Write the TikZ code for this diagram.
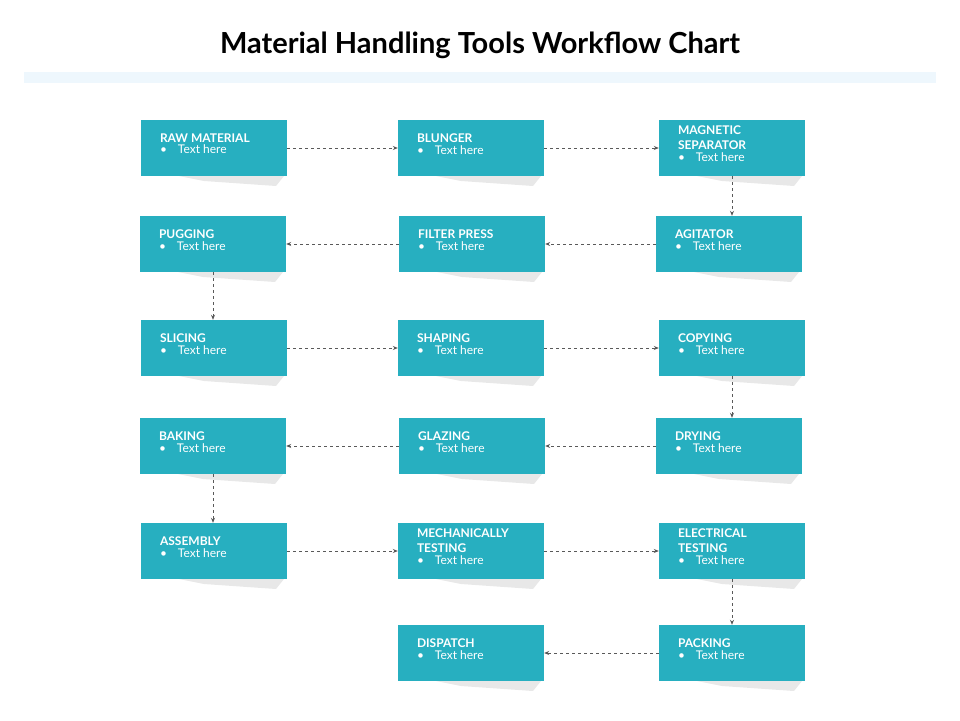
\documentclass[tikz,border=0pt]{standalone}
\usepackage{fontspec}
\setmainfont{Lato}
\usetikzlibrary{arrows.meta}
\definecolor{boxc}{HTML}{27AFC0}
\definecolor{band}{HTML}{EEF7FD}
\newcommand{\mkbox}[5]{% name, cx, cy, title lines, offset
  \fill[black!9] (#2-35,#3+28) -- (#2+70,#3+28) -- (#2+62,#3+38) -- (#2-10,#3+33) -- cycle;
  \node[flowbox] (#1) at (#2,#3) {};
  \node[anchor=north west,align=left,text=white,inner sep=0pt,font=\bfseries\fontsize{12}{15}\selectfont] (#1t) at ([xshift=19pt,yshift=#5]#1.north west) {#4};
  \node[anchor=north west,inner sep=0pt,text=white,font=\fontsize{12}{15}\selectfont] (#1b) at ([yshift=-2pt]#1t.south west) {\textbullet\hspace{11pt}Text here};
}
\begin{document}
\begin{tikzpicture}[x=1pt,y=-1pt,
  flowbox/.style={fill=boxc,draw=none,minimum width=146pt,minimum height=56pt,inner sep=0pt},
  conn/.style={dashed,draw=black!65,line width=0.7pt,-{Stealth[length=5pt,width=4pt]}}]
\useasboundingbox (0,0) rectangle (960,720);
\fill[band] (24,72) rectangle (936,83);
\node[font=\bfseries\fontsize{29}{34}\selectfont] (title) at (480,45) {Material Handling Tools Workflow Chart};
\mkbox{a1}{214}{148}{RAW MATERIAL}{-14pt}
\mkbox{a2}{471}{148}{BLUNGER}{-14pt}
\mkbox{a3}{732}{148}{MAGNETIC\\SEPARATOR}{-6pt}
\mkbox{b1}{213}{244}{PUGGING}{-14pt}
\mkbox{b2}{472}{244}{FILTER PRESS}{-14pt}
\mkbox{b3}{729}{244}{AGITATOR}{-14pt}
\mkbox{c1}{214}{348}{SLICING}{-14pt}
\mkbox{c2}{471}{348}{SHAPING}{-14pt}
\mkbox{c3}{732}{348}{COPYING}{-14pt}
\mkbox{d1}{213}{446}{BAKING}{-14pt}
\mkbox{d2}{472}{446}{GLAZING}{-14pt}
\mkbox{d3}{729}{446}{DRYING}{-14pt}
\mkbox{e1}{214}{551}{ASSEMBLY}{-14pt}
\mkbox{e2}{471}{551}{MECHANICALLY\\TESTING}{-6pt}
\mkbox{e3}{732}{551}{ELECTRICAL\\TESTING}{-6pt}
\mkbox{f2}{471}{653}{DISPATCH}{-14pt}
\mkbox{f3}{732}{653}{PACKING}{-14pt}
\draw[conn] (a1) -- (a2);
\draw[conn] (a2) -- (a3);
\draw[conn] (a3.south) -- (a3.south |- b3.north);
\draw[conn] (b3) -- (b2);
\draw[conn] (b2) -- (b1);
\draw[conn] (b1.south) -- (b1.south |- c1.north);
\draw[conn] (c1) -- (c2);
\draw[conn] (c2) -- (c3);
\draw[conn] (c3.south) -- (c3.south |- d3.north);
\draw[conn] (d3) -- (d2);
\draw[conn] (d2) -- (d1);
\draw[conn] (d1.south) -- (d1.south |- e1.north);
\draw[conn] (e1) -- (e2);
\draw[conn] (e2) -- (e3);
\draw[conn] (e3.south) -- (e3.south |- f3.north);
\draw[conn] (f3) -- (f2);
\end{tikzpicture}
\end{document}
